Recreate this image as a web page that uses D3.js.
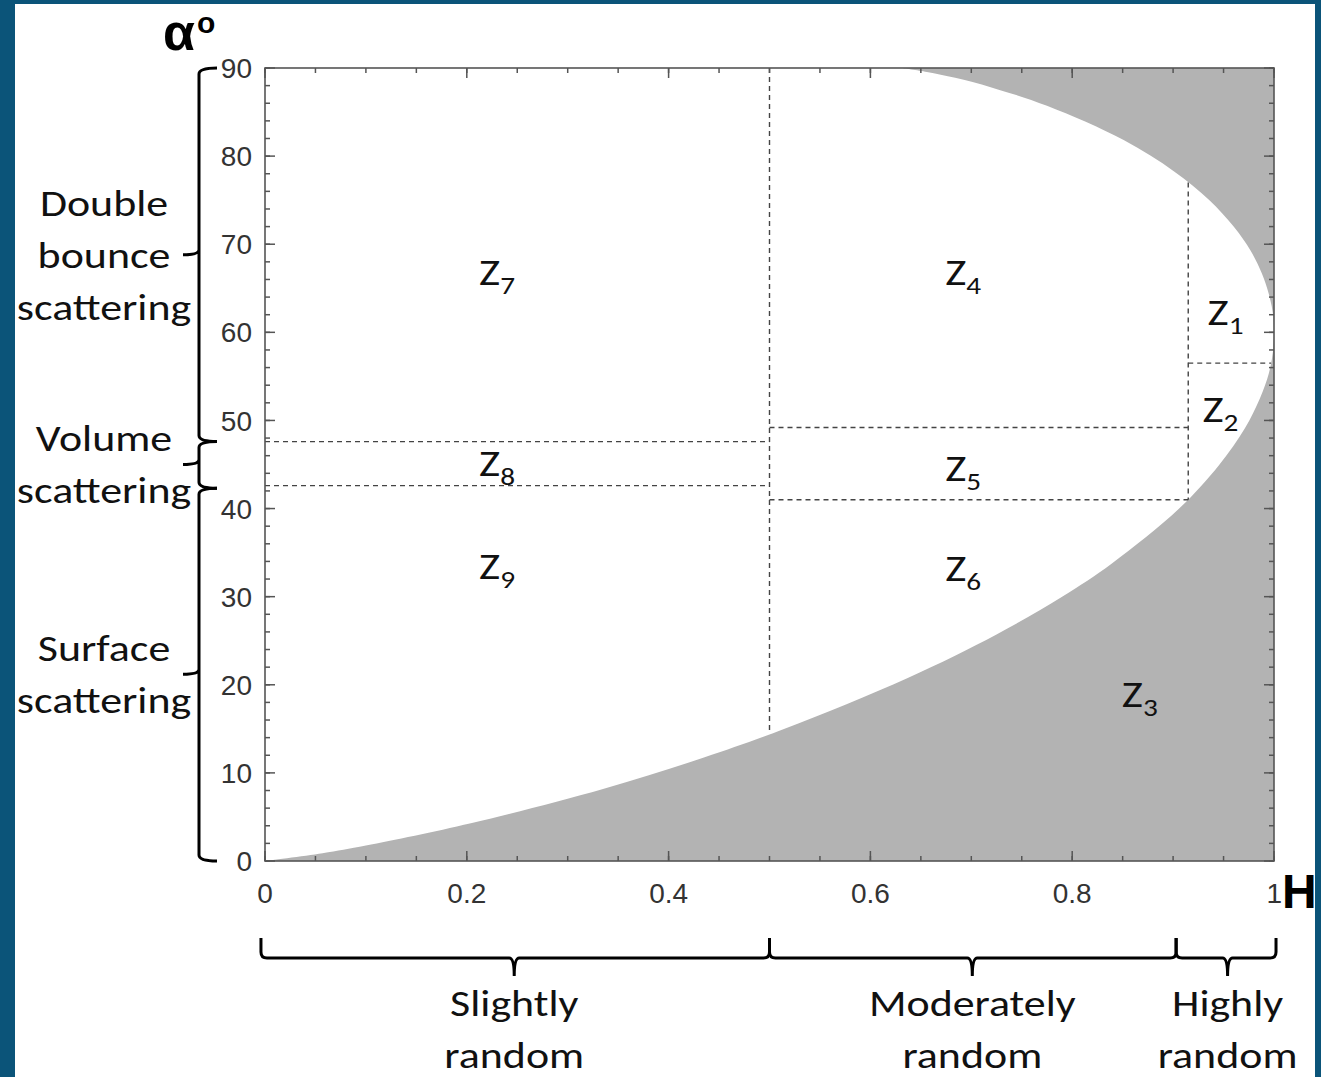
<!DOCTYPE html>
<html>
<head>
<meta charset="utf-8">
<script src="https://cdn.jsdelivr.net/npm/d3@7"></script>
<style>
  html, body { margin: 0; padding: 0; background: #0b5479; }
  svg { display: block; }
</style>
</head>
<body>
<svg width="1321" height="1077"></svg>
<script>
let svg = d3.select("svg");
let width = +svg.attr("width");
let height = +svg.attr("height");

// boundary curve I (lower edge of the feasible region), [H, alpha]
const curveI = [
  [0, 0], [0.057, 0.89], [0.100, 1.76], [0.204, 4.29], [0.335, 8.18], [0.435, 11.74],
  [0.515, 15.0], [0.637, 20.77], [0.725, 25.71], [0.790, 30.0], [0.839, 33.75],
  [0.906, 40.0], [0.946, 45.0], [0.971, 49.09], [0.986, 52.5], [0.995, 55.38],
  [0.999, 57.86], [1, 60]
];
// boundary curve II (upper edge), [H, alpha]
const curveII = [
  [1, 60], [0.999, 62.07], [0.995, 64.29], [0.988, 66.67], [0.977, 69.23], [0.960, 72.0],
  [0.936, 75.0], [0.901, 78.26], [0.851, 81.82], [0.775, 85.71], [0.720, 87.80],
  [0.684, 88.89], [0.656, 89.55], [0.631, 90]
];

// zone borders: [H0, a0, H1, a1]
const borders = [
  [0.5, 90, 0.5, 14.7],
  [0.915, 77, 0.915, 41.0],
  [0, 47.6, 0.5, 47.6],
  [0, 42.6, 0.5, 42.6],
  [0.5, 49.2, 0.915, 49.2],
  [0.5, 41.0, 0.915, 41.0],
  [0.915, 56.5, 0.997, 56.5]
];

const zoneNames = ["7", "4", "1", "2", "8", "5", "9", "6", "3"];
const zoneH = [0.223, 0.685, 0.945, 0.94, 0.223, 0.685, 0.223, 0.685, 0.86];
const zoneA = [66.8, 66.8, 62.3, 51.3, 45.2, 44.6, 33.5, 33.2, 19.0];

const xTicks = [0, 0.2, 0.4, 0.6, 0.8, 1];
const yTicks = [0, 10, 20, 30, 40, 50, 60, 70, 80, 90];

// mechanism brackets on the alpha axis: [alpha top, alpha mid, alpha bottom]
const mechNames = [["Double", "bounce", "scattering"], ["Volume", "scattering"], ["Surface", "scattering"]];
const mechSpan = [[90, 68.8, 47.6], [47.6, 45.0, 42.3], [42.3, 21.2, 0]];

// randomness brackets on the H axis
const randNames = [["Slightly", "random"], ["Moderately", "random"], ["Highly", "random"]];
const randSpan = [[-0.004, 0.247, 0.5], [0.5, 0.701, 0.903], [0.903, 0.954, 1.002]];

let x = d3.scaleLinear().domain([0, 1]).range([265, 1274]);
let y = d3.scaleLinear().domain([0, 90]).range([861, 68]);

// white card
svg.append("rect").attr("x", 15).attr("y", 4).attr("width", 1300).attr("height", height)
  .attr("fill", "#fff");

// gray (non feasible) area, then feasible region in white
svg.append("rect")
  .attr("x", x(0)).attr("y", y(90))
  .attr("width", x(1) - x(0)).attr("height", y(0) - y(90))
  .attr("fill", "#b3b3b3");

let smooth = d3.line().x(d => x(d[0])).y(d => y(d[1])).curve(d3.curveCatmullRom.alpha(0.5));
let regionPath = smooth(curveI) + smooth(curveII).replace(/^M/, "L") +
  "L" + x(0) + "," + y(90) + "Z";
svg.append("path").attr("d", regionPath).attr("fill", "#fff");

// zone borders
svg.append("g").selectAll("line").data(borders).enter().append("line")
  .attr("x1", d => x(d[0])).attr("y1", d => y(d[1]))
  .attr("x2", d => x(d[2])).attr("y2", d => y(d[3]))
  .attr("stroke", "#444").attr("stroke-width", 1.4)
  .attr("stroke-dasharray", "5,4");

// axes with inward ticks, mirrored on top and right
let tickColor = "#555";
let axisG = svg.append("g");
let minorX = d3.range(0, 1.0001, 0.05);
let minorY = d3.range(0, 90.001, 2);
let drawTicks = (vals, isX, len) => {
  vals.forEach(v => {
    if (isX) {
      axisG.append("line").attr("x1", x(v)).attr("x2", x(v)).attr("y1", y(0)).attr("y2", y(0) - len)
        .attr("stroke", tickColor).attr("stroke-width", 1.5);
      axisG.append("line").attr("x1", x(v)).attr("x2", x(v)).attr("y1", y(90)).attr("y2", y(90) + len)
        .attr("stroke", tickColor).attr("stroke-width", 1.5);
    } else {
      axisG.append("line").attr("x1", x(0)).attr("x2", x(0) + len).attr("y1", y(v)).attr("y2", y(v))
        .attr("stroke", tickColor).attr("stroke-width", 1.5);
      axisG.append("line").attr("x1", x(1)).attr("x2", x(1) - len).attr("y1", y(v)).attr("y2", y(v))
        .attr("stroke", tickColor).attr("stroke-width", 1.5);
    }
  });
};
drawTicks(minorX, true, 5);
drawTicks(xTicks, true, 10);
drawTicks(minorY, false, 5);
drawTicks(yTicks, false, 10);

axisG.append("rect")
  .attr("x", x(0)).attr("y", y(90))
  .attr("width", x(1) - x(0)).attr("height", y(0) - y(90))
  .attr("fill", "none").attr("stroke", "#555").attr("stroke-width", 1.6);

let numFont = "'Liberation Sans', Arial, sans-serif";
svg.append("g").selectAll("text").data(yTicks).enter().append("text")
  .attr("x", 252).attr("y", d => y(d)).attr("dy", "0.36em")
  .attr("text-anchor", "end")
  .style("font-family", numFont).style("font-size", "28px").attr("fill", "#333")
  .text(d => d);
svg.append("g").selectAll("text").data(xTicks).enter().append("text")
  .attr("x", d => x(d)).attr("y", 893).attr("dy", "0.36em")
  .attr("text-anchor", d => d === 1 ? "end" : "middle")
  .attr("dx", d => d === 1 ? 8 : 0)
  .style("font-family", numFont).style("font-size", "28px").attr("fill", "#333")
  .text(d => d);

// axis titles
svg.append("text").attr("x", 1282).attr("y", 908)
  .style("font-family", numFont).style("font-size", "48px").style("font-weight", "bold")
  .attr("fill", "#000").text("H");
let aTitle = svg.append("text").attr("x", 163).attr("y", 50)
  .style("font-family", numFont).style("font-weight", "bold").attr("fill", "#000");
aTitle.append("tspan").style("font-size", "52px").text("α");
aTitle.append("tspan").style("font-size", "30px").attr("dy", -17).attr("dx", 2).text("o");

// labels are set in a humanist face, stretched a little to the reference's width
let labFont = "Carlito, Lato, 'Open Sans', sans-serif";
let stretch = 1.22;

// zone labels
let zones = svg.append("g").selectAll("text").data(zoneNames).enter().append("text")
  .attr("transform", (d, i) => `translate(${x(zoneH[i]) - 11},${y(zoneA[i]) + 13}) scale(${stretch},1)`)
  .style("font-family", labFont).attr("fill", "#111");
zones.append("tspan").style("font-size", "37px").text("Z");
zones.append("tspan").style("font-size", "24px").attr("dy", 9).text(d => d);

// brackets
let bracketStroke = "#000";
let bx = 199;
mechSpan.forEach((s, i) => {
  let y0 = y(s[0]), ym = y(s[1]), y1 = y(s[2]);
  let p = d3.path();
  p.moveTo(bx + 18, y0);
  p.quadraticCurveTo(bx, y0, bx, y0 + 6);
  p.lineTo(bx, ym - 5);
  p.quadraticCurveTo(bx, ym, bx - 16, ym);
  p.moveTo(bx, ym - 5);
  p.quadraticCurveTo(bx, ym, bx, ym + 5);
  p.lineTo(bx, y1 - 6);
  p.quadraticCurveTo(bx, y1, bx + 18, y1);
  svg.append("path").attr("d", p.toString()).attr("fill", "none")
    .attr("stroke", bracketStroke).attr("stroke-width", 3);
  let lines = mechNames[i];
  let startY = ym - (lines.length - 1) * 26;
  lines.forEach((t, j) => {
    svg.append("text")
      .attr("transform", `translate(104,${startY + j * 52}) scale(${stretch},1)`)
      .attr("dy", "0.36em")
      .attr("text-anchor", "middle")
      .style("font-family", labFont).style("font-size", "36px").attr("fill", "#111")
      .text(t);
  });
});

let by = 958;
randSpan.forEach((s, i) => {
  let x0 = x(s[0]), xm = x(s[1]), x1 = x(s[2]);
  let p = d3.path();
  p.moveTo(x0, by - 20);
  p.lineTo(x0, by - 6);
  p.quadraticCurveTo(x0, by, x0 + 6, by);
  p.lineTo(xm - 5, by);
  p.quadraticCurveTo(xm, by, xm, by + 18);
  p.moveTo(xm, by + 18);
  p.quadraticCurveTo(xm, by, xm + 5, by);
  p.lineTo(x1 - 6, by);
  p.quadraticCurveTo(x1, by, x1, by - 6);
  p.lineTo(x1, by - 20);
  svg.append("path").attr("d", p.toString()).attr("fill", "none")
    .attr("stroke", bracketStroke).attr("stroke-width", 3);
  randNames[i].forEach((t, j) => {
    svg.append("text")
      .attr("transform", `translate(${xm},${1003 + j * 52}) scale(${stretch},1)`)
      .attr("dy", "0.36em")
      .attr("text-anchor", "middle")
      .style("font-family", labFont).style("font-size", "36px").attr("fill", "#111")
      .text(t);
  });
});
</script>
</body>
</html>
